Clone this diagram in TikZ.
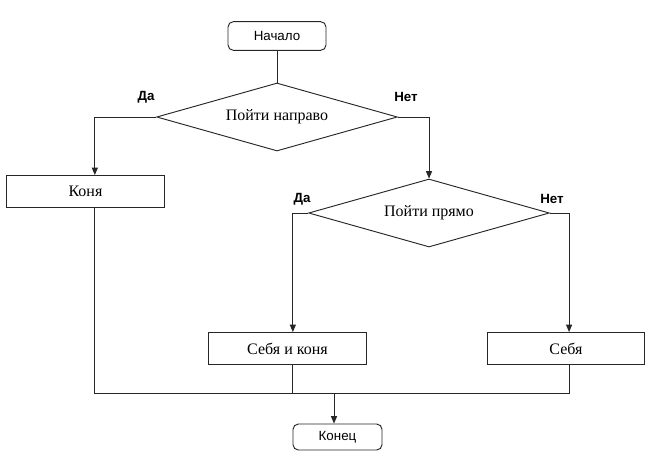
\documentclass[tikz,border=0pt]{standalone}
\usepackage{fontspec}
\setmainfont{Liberation Serif}
\newfontfamily\labelfont{Liberation Sans}
\usetikzlibrary{shapes.geometric,arrows.meta}

\begin{document}
\begin{tikzpicture}[x=0.75pt, y=-0.75pt,
    line/.style={draw=black!85, line width=0.7pt},
    arr/.style={line, -{Triangle[length=5.5pt,width=4.5pt]}},
    term/.style={line, rounded corners=4pt, minimum width=73.5pt, minimum height=21.5pt, inner sep=0pt, font=\labelfont\fontsize{10}{12}\selectfont},
    act/.style={line, minimum width=118pt, minimum height=24pt, inner sep=0pt, font=\fontsize{12}{14}\selectfont},
    cond/.style={line, diamond, aspect=3.5, minimum width=180.5pt, minimum height=51pt, inner sep=0pt, font=\fontsize{12}{14}\selectfont},
    ans/.style={font=\labelfont\bfseries\fontsize{10}{12}\selectfont}]
        \useasboundingbox (0,0) rectangle (659,467);

        % start and first question
        \node[term] (start) at (277,36) {Начало};
        \node[cond] (q1) at (277,117) {Пойти направо};
        \draw[line] (start) -- (q1);

        % left branch
        \node[act] (kon) at (85.5,191.5) {Коня};
        \node[ans] (yes1) at (146,97) {Да};
        \draw[arr] (q1.west) -| ([xshift=7pt]kon.north);

        % right branch, second question
        \node[cond] (q2) at (429,213) {Пойти прямо};
        \node[ans] (no1) at (406,97) {Нет};
        \draw[arr] (q1.east) -| (q2.north);

        \node[act] (sik) at (287.5,348.5) {Себя и коня};
        \node[act] (seb) at (566,348.5) {Себя};
        \node[ans] (yes2) at (302,199) {Да};
        \node[ans] (no2) at (552,199) {Нет};
        \draw[arr] (q2.west) -| ([xshift=4pt]sik.north);
        \draw[arr] (q2.east) -| ([xshift=2.3pt]seb.north);

        % join and end
        \node[term, minimum width=66.75pt, minimum height=19.5pt] (end) at (337.5,437) {Конец};
        \coordinate (merge) at (334,393);
        \draw[line] ([xshift=7pt]kon.south) |- (merge);
        \draw[line] ([xshift=4pt]sik.south) |- (merge);
        \draw[line] ([xshift=2.3pt]seb.south) |- (merge);
        \draw[arr] (merge) -- (merge |- end.north);
    \end{tikzpicture}
\end{document}
